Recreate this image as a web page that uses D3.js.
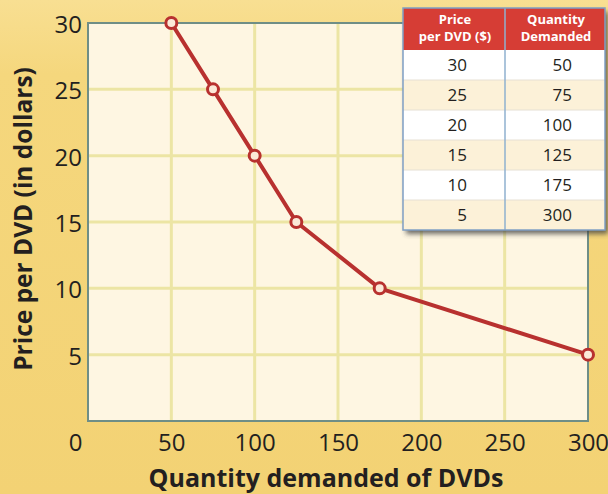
<!DOCTYPE html>
<html>
<head>
<meta charset="utf-8">
<script src="https://cdn.jsdelivr.net/npm/d3@7"></script>
<style>
  body { margin: 0; }
  svg { display: block; font-family: "Open Sans", "Noto Sans", sans-serif; }
</style>
</head>
<body>
<svg width="608" height="494"></svg>
<script>
// demand schedule
const quantity = [50, 75, 100, 125, 175, 300];
const price = [30, 25, 20, 15, 10, 5];
const xTicks = [0, 50, 100, 150, 200, 250, 300];
const yTicks = [5, 10, 15, 20, 25, 30];
const headPrice = ["Price", "per DVD ($)"];
const headQty = ["Quantity", "Demanded"];

const svg = d3.select("svg");
const width = +svg.attr("width");
const height = +svg.attr("height");

const defs = svg.append("defs");
const bg = defs.append("linearGradient").attr("id", "bg").attr("x1", 0).attr("y1", 0).attr("x2", 0).attr("y2", 1);
bg.append("stop").attr("offset", 0).attr("stop-color", "#f8df92");
bg.append("stop").attr("offset", 0.15).attr("stop-color", "#f5d77d");
bg.append("stop").attr("offset", 1).attr("stop-color", "#f3d274");
const sh = defs.append("filter").attr("id", "shadow").attr("x", "-10%").attr("y", "-10%").attr("width", "130%").attr("height", "130%");
sh.append("feGaussianBlur").attr("stdDeviation", 2.5);

svg.append("rect").attr("width", width).attr("height", height).attr("fill", "url(#bg)");

const x = d3.scaleLinear().domain([0, 300]).range([88, 588]);
const y = d3.scaleLinear().domain([0, 30]).range([421, 23]);

// plot area
svg.append("rect")
  .attr("x", x(0)).attr("y", y(30))
  .attr("width", x(300) - x(0)).attr("height", y(0) - y(30))
  .attr("fill", "#fef6e2");

// grid
const grid = svg.append("g");
grid.selectAll(".vg").data(xTicks.filter(d => d > 0 && d < 300)).join("line")
  .attr("x1", d => x(d)).attr("x2", d => x(d))
  .attr("y1", y(30)).attr("y2", y(0))
  .attr("stroke", "#ece5a4").attr("stroke-width", 3);
grid.selectAll(".hg").data(yTicks.filter(d => d < 30)).join("line")
  .attr("x1", x(0)).attr("x2", x(300))
  .attr("y1", d => y(d)).attr("y2", d => y(d))
  .attr("stroke", "#ece5a4").attr("stroke-width", 3);

// frame
svg.append("rect")
  .attr("x", x(0)).attr("y", y(30))
  .attr("width", x(300) - x(0)).attr("height", y(0) - y(30))
  .attr("fill", "none").attr("stroke", "#6f8e86").attr("stroke-width", 2);

// axes
const xAxis = svg.append("g")
  .attr("transform", `translate(0,${y(0)})`)
  .call(d3.axisBottom(x).tickValues(xTicks).tickSize(0).tickPadding(13));
xAxis.select(".domain").remove();
xAxis.selectAll("text")
  .attr("font-size", 24).attr("fill", "#231f20").attr("font-family", "Open Sans")
  .attr("dx", d => d === 0 ? -13 : 0);

const yAxis = svg.append("g")
  .attr("transform", `translate(${x(0)},0)`)
  .call(d3.axisLeft(y).tickValues(yTicks).tickSize(0).tickPadding(6));
yAxis.select(".domain").remove();
yAxis.selectAll("text")
  .attr("font-size", 24).attr("fill", "#231f20").attr("font-family", "Open Sans")
  .attr("dy", "0.4em");

svg.append("text")
  .attr("x", 326).attr("y", 487)
  .attr("text-anchor", "middle").attr("font-size", 25).attr("font-weight", "bold")
  .attr("fill", "#231f20").text("Quantity demanded of DVDs");

svg.append("text")
  .attr("transform", `translate(32,219) rotate(-90)`)
  .attr("text-anchor", "middle").attr("font-size", 24.5).attr("font-weight", "bold")
  .attr("fill", "#231f20").text("Price per DVD (in dollars)");

// demand curve
const pts = quantity.map((q, i) => [q, price[i]]);
svg.append("path")
  .datum(pts)
  .attr("d", d3.line().x(d => x(d[0])).y(d => y(d[1])))
  .attr("fill", "none").attr("stroke", "#b8312f").attr("stroke-width", 4).attr("stroke-linejoin", "round");
svg.selectAll(".pt").data(pts).join("circle")
  .attr("cx", d => x(d[0])).attr("cy", d => y(d[1])).attr("r", 5.5)
  .attr("fill", "#fbe9d8").attr("stroke", "#b8312f").attr("stroke-width", 3);

// table
const tx = 403, ty = 8, tw = 202, headH = 42, rowH = 30, colX = 505;
const tbl = svg.append("g");
tbl.append("rect").attr("x", tx + 3).attr("y", ty + 4).attr("width", tw).attr("height", headH + rowH * price.length)
  .attr("fill", "#3c3c3c").attr("opacity", 0.75).attr("filter", "url(#shadow)");
tbl.append("rect").attr("x", tx).attr("y", ty).attr("width", tw).attr("height", headH)
  .attr("fill", "#d63d35");
tbl.selectAll(".row").data(price).join("rect")
  .attr("x", tx).attr("y", (d, i) => ty + headH + i * rowH)
  .attr("width", tw).attr("height", rowH)
  .attr("fill", (d, i) => i % 2 ? "#fcf1d8" : "#ffffff");
tbl.selectAll(".sep").data(d3.range(1, price.length)).join("line")
  .attr("x1", tx).attr("x2", tx + tw)
  .attr("y1", i => ty + headH + i * rowH).attr("y2", i => ty + headH + i * rowH)
  .attr("stroke", "#e6e0d4").attr("stroke-width", 1);
tbl.append("line").attr("x1", colX).attr("x2", colX).attr("y1", ty).attr("y2", ty + headH + rowH * price.length)
  .attr("stroke", "#8fb0cf").attr("stroke-width", 1.5);
tbl.append("rect").attr("x", tx).attr("y", ty).attr("width", tw).attr("height", headH + rowH * price.length)
  .attr("fill", "none").attr("stroke", "#7f9fc4").attr("stroke-width", 1.5);

[[headPrice, 455], [headQty, 556]].forEach(([lines, cx]) => {
  lines.forEach((t, i) => {
    tbl.append("text").attr("x", cx).attr("y", ty + 16 + i * 17)
      .attr("text-anchor", "middle").attr("font-size", 13).attr("font-weight", "bold").attr("fill", "#fff")
      .text(t);
  });
});
tbl.selectAll(".pv").data(price).join("text")
  .attr("x", 467).attr("y", (d, i) => ty + headH + i * rowH + 21)
  .attr("text-anchor", "end").attr("font-size", 17).attr("fill", "#231f20").text(d => d);
tbl.selectAll(".qv").data(quantity).join("text")
  .attr("x", 572).attr("y", (d, i) => ty + headH + i * rowH + 21)
  .attr("text-anchor", "end").attr("font-size", 17).attr("fill", "#231f20").text(d => d);
</script>
</body>
</html>
